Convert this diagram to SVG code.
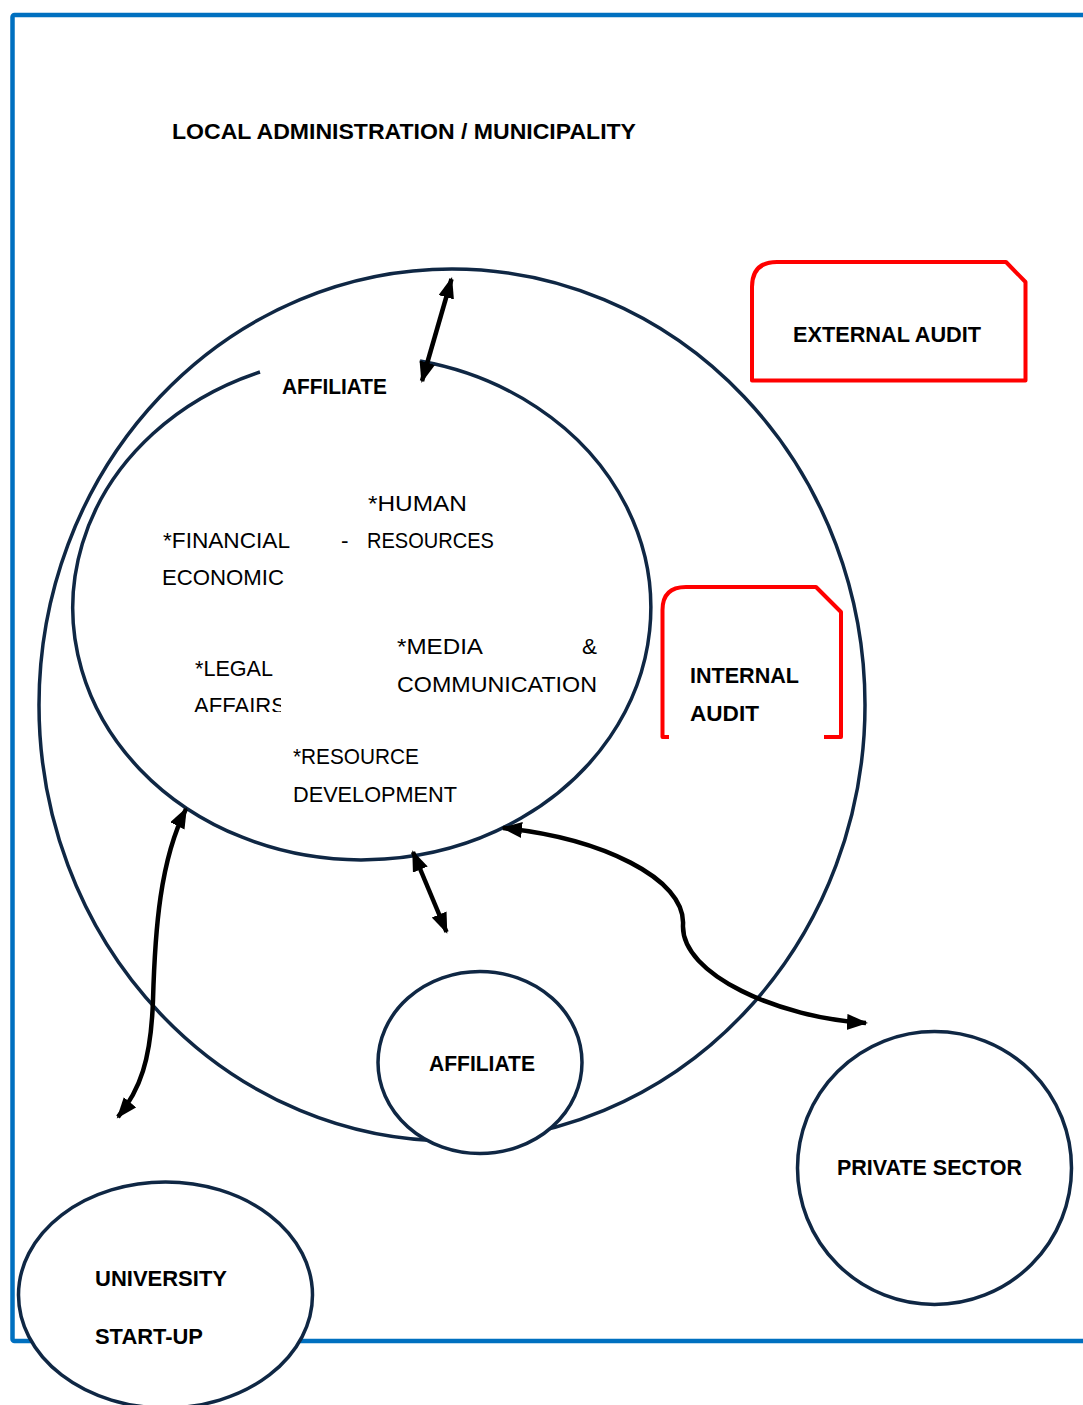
<svg xmlns="http://www.w3.org/2000/svg" width="1083" height="1405" viewBox="0 0 1083 1405">
<style>
.frame{fill:none;stroke:#0070C0;stroke-width:4.5}
.ring{fill:none;stroke:#0F2744;stroke-width:3.5}
.node{fill:#fff;stroke:#0F2744;stroke-width:3.5}
.audit{fill:none;stroke:#FF0000;stroke-width:4;stroke-linejoin:round}
.conn{fill:none;stroke:#000;stroke-width:4.5;marker-start:url(#ah);marker-end:url(#ah)}
.b{font-family:"Liberation Sans",Arial,sans-serif;font-weight:bold;font-size:22px;fill:#000}
.r{font-family:"Liberation Sans",Arial,sans-serif;font-size:22.5px;fill:#000}
</style>
<defs>
<marker id="ah" markerUnits="userSpaceOnUse" markerWidth="22" markerHeight="18" refX="19" refY="8" orient="auto-start-reverse">
<path d="M0,0 L21,8 L0,16 z" fill="#000"/>
</marker>
<clipPath id="clipAffairs"><rect x="180" y="690" width="101" height="22"/></clipPath>
</defs>
<g id="frame">
<rect class="frame" x="12.5" y="15" width="1100" height="1326" rx="2"/>
<text class="b" x="172" y="139" textLength="464" lengthAdjust="spacingAndGlyphs">LOCAL ADMINISTRATION / MUNICIPALITY</text>
</g>
<g id="outer-circle">
<ellipse class="ring" cx="452" cy="705" rx="413" ry="436"/>
</g>
<g id="affiliate-inner">
<path class="ring" d="M420,361 A289,252 0 1 1 260,372"/>
<text class="b" x="282" y="394" textLength="105" lengthAdjust="spacingAndGlyphs">AFFILIATE</text>
<text class="r" x="368" y="511" textLength="99" lengthAdjust="spacingAndGlyphs">*HUMAN</text>
<text class="r" x="163" y="548" textLength="127" lengthAdjust="spacingAndGlyphs">*FINANCIAL</text>
<text class="r" x="341" y="548">-</text>
<text class="r" x="367" y="548" textLength="127" lengthAdjust="spacingAndGlyphs">RESOURCES</text>
<text class="r" x="162" y="585" textLength="122" lengthAdjust="spacingAndGlyphs">ECONOMIC</text>
<text class="r" x="397" y="654" textLength="86" lengthAdjust="spacingAndGlyphs">*MEDIA</text>
<text class="r" x="582" y="654" textLength="15" lengthAdjust="spacingAndGlyphs">&amp;</text>
<text class="r" x="397" y="692" textLength="200" lengthAdjust="spacingAndGlyphs">COMMUNICATION</text>
<text class="r" x="195" y="676" textLength="78" lengthAdjust="spacingAndGlyphs">*LEGAL</text>
<text class="r" x="194" y="713" textLength="92" lengthAdjust="spacingAndGlyphs" clip-path="url(#clipAffairs)">AFFAIRS</text>
<text class="r" x="293" y="764" textLength="126" lengthAdjust="spacingAndGlyphs">*RESOURCE</text>
<text class="r" x="293" y="802" textLength="164" lengthAdjust="spacingAndGlyphs">DEVELOPMENT</text>
</g>
<g id="external-audit">
<path class="audit" d="M752,380.5 V287 Q752,262 777,262 H1006 L1025.5,282 V380.5 Z"/>
<text class="b" x="793" y="342" textLength="188" lengthAdjust="spacingAndGlyphs">EXTERNAL AUDIT</text>
</g>
<g id="internal-audit">
<path class="audit" d="M669,737 H662.5 V610 Q662.5,587 686,587 H816 L841,612 V737 H824"/>
<text class="b" x="690" y="683" textLength="109" lengthAdjust="spacingAndGlyphs">INTERNAL</text>
<text class="b" x="690" y="721" textLength="69" lengthAdjust="spacingAndGlyphs">AUDIT</text>
</g>
<g id="affiliate-small">
<ellipse class="node" cx="480" cy="1062.5" rx="102" ry="91"/>
<text class="b" x="429" y="1071" textLength="106" lengthAdjust="spacingAndGlyphs">AFFILIATE</text>
</g>
<g id="private-sector">
<ellipse class="node" cx="934.5" cy="1168" rx="137" ry="136.5"/>
<text class="b" x="837" y="1175" textLength="185" lengthAdjust="spacingAndGlyphs">PRIVATE SECTOR</text>
</g>
<g id="university-startup">
<ellipse class="node" cx="165.5" cy="1295" rx="147" ry="113"/>
<text class="b" x="95" y="1286" textLength="132" lengthAdjust="spacingAndGlyphs">UNIVERSITY</text>
<text class="b" x="95" y="1344" textLength="108" lengthAdjust="spacingAndGlyphs">START-UP</text>
</g>
<g id="connectors">
<path class="conn" d="M451.5,279 L422,381"/>
<path class="conn" d="M413,852 L446.5,932"/>
<path class="conn" d="M503,828 C600,838 686,878 683,925 C681,975 780,1018 866,1023"/>
<path class="conn" d="M186,809 C160,860 155,930 153,1000 C151,1060 140,1090 118,1117"/>
</g>
</svg>
